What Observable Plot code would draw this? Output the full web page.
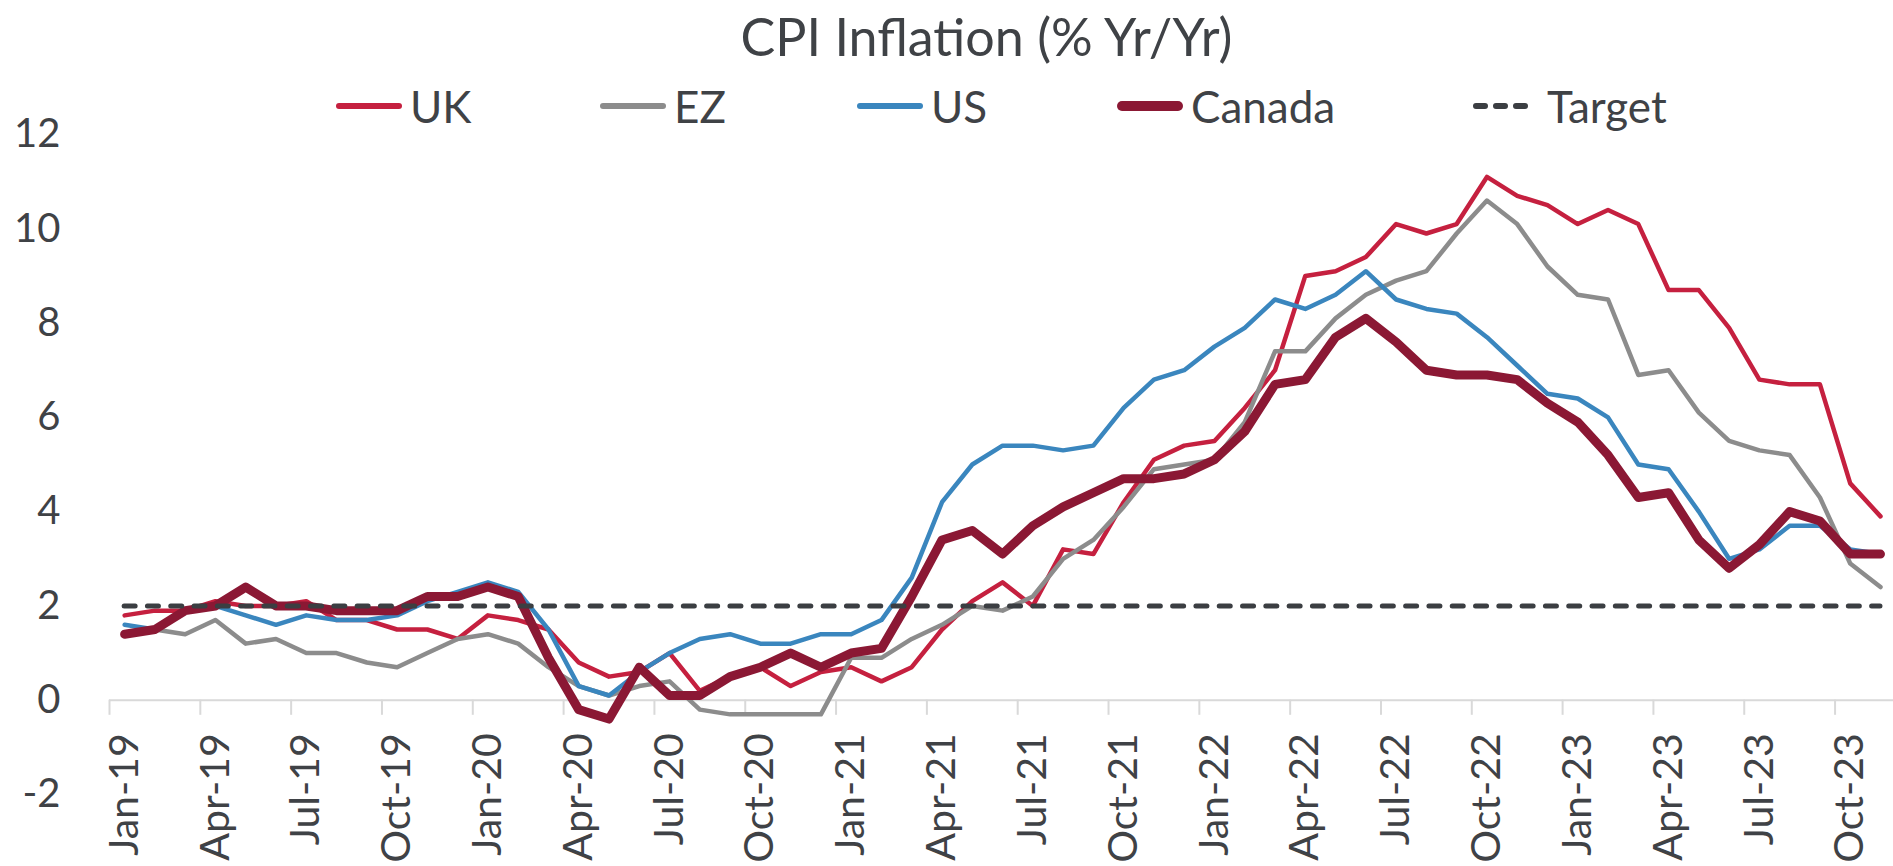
<!DOCTYPE html>
<html>
<head>
<meta charset="utf-8">
<script src="https://cdn.jsdelivr.net/npm/d3@7"></script>
<script src="https://cdn.jsdelivr.net/npm/@observablehq/plot@0.6"></script>
<style>
  html, body { margin: 0; padding: 0; background: #fff; }
  #wrap { position: relative; width: 1893px; height: 866px; font-family: Lato, "Open Sans", sans-serif; color: #3f4246; }
  #title { position: absolute; left: 40px; top: 0; width: 1893px; height: 72px; line-height: 72px; text-align: center; font-size: 52px; z-index: 2; }
  #legend { position: absolute; left: 0; top: 82px; width: 1893px; height: 48px; z-index: 2; }
  .item { position: absolute; top: 0; height: 48px; display: flex; align-items: center; font-size: 44px; white-space: nowrap; }
  .item svg { margin-right: 8px; overflow: visible; }
  #chart { position: absolute; left: 0; top: 120px; z-index: 1; }
  #chart svg { overflow: visible; }
</style>
</head>
<body>
<div id="wrap">
  <div id="title">CPI Inflation (% Yr/Yr)</div>
  <div id="legend"></div>
  <div id="chart"></div>
</div>
<script>
// ---- data (Jan-19 .. Nov-23, monthly, % y/y) ----
const uk = [1.8,1.9,1.9,2.1,2.0,2.0,2.1,1.7,1.7,1.5,1.5,1.3,
            1.8,1.7,1.5,0.8,0.5,0.6,1.0,0.2,0.5,0.7,0.3,0.6,
            0.7,0.4,0.7,1.5,2.1,2.5,2.0,3.2,3.1,4.2,5.1,5.4,
            5.5,6.2,7.0,9.0,9.1,9.4,10.1,9.9,10.1,11.1,10.7,10.5,
            10.1,10.4,10.1,8.7,8.7,7.9,6.8,6.7,6.7,4.6,3.9];
const ez = [1.4,1.5,1.4,1.7,1.2,1.3,1.0,1.0,0.8,0.7,1.0,1.3,
            1.4,1.2,0.7,0.3,0.1,0.3,0.4,-0.2,-0.3,-0.3,-0.3,-0.3,
            0.9,0.9,1.3,1.6,2.0,1.9,2.2,3.0,3.4,4.1,4.9,5.0,
            5.1,5.9,7.4,7.4,8.1,8.6,8.9,9.1,9.9,10.6,10.1,9.2,
            8.6,8.5,6.9,7.0,6.1,5.5,5.3,5.2,4.3,2.9,2.4];
const us = [1.6,1.5,1.9,2.0,1.8,1.6,1.8,1.7,1.7,1.8,2.1,2.3,
            2.5,2.3,1.5,0.3,0.1,0.6,1.0,1.3,1.4,1.2,1.2,1.4,
            1.4,1.7,2.6,4.2,5.0,5.4,5.4,5.3,5.4,6.2,6.8,7.0,
            7.5,7.9,8.5,8.3,8.6,9.1,8.5,8.3,8.2,7.7,7.1,6.5,
            6.4,6.0,5.0,4.9,4.0,3.0,3.2,3.7,3.7,3.2,3.1];
const canada = [1.4,1.5,1.9,2.0,2.4,2.0,2.0,1.9,1.9,1.9,2.2,2.2,
            2.4,2.2,0.9,-0.2,-0.4,0.7,0.1,0.1,0.5,0.7,1.0,0.7,
            1.0,1.1,2.2,3.4,3.6,3.1,3.7,4.1,4.4,4.7,4.7,4.8,
            5.1,5.7,6.7,6.8,7.7,8.1,7.6,7.0,6.9,6.9,6.8,6.3,
            5.9,5.2,4.3,4.4,3.4,2.8,3.3,4.0,3.8,3.1,3.1];
const targetValue = 2;
const tickLabels = ["Jan-19","Apr-19","Jul-19","Oct-19","Jan-20","Apr-20","Jul-20","Oct-20",
                    "Jan-21","Apr-21","Jul-21","Oct-21","Jan-22","Apr-22","Jul-22","Oct-22",
                    "Jan-23","Apr-23","Jul-23","Oct-23"];
const yTicks = [-2,0,2,4,6,8,10,12];

// ---- styling ----
const series = [
  {name: "UK",     values: uk,     color: "#c5203f", width: 4.5},
  {name: "EZ",     values: ez,     color: "#8c8c8c", width: 4.5},
  {name: "US",     values: us,     color: "#3a86be", width: 4.5},
  {name: "Canada", values: canada, color: "#8b1834", width: 9}
];
const targetColor = "#3b3e42";

const rows = series.flatMap(s => s.values.map((v, i) => ({name: s.name, i, v})));
const tickIdx = tickLabels.map((_, k) => k * 3);

const chart = Plot.plot({
  width: 1893,
  height: 746,
  marginTop: 14,
  marginBottom: 72,
  marginLeft: 109,
  marginRight: 0,
  style: {fontFamily: "Lato, 'Open Sans', sans-serif", color: "#3f4246", background: "transparent", overflow: "visible"},
  x: {domain: [-0.5, uk.length - 0.57], axis: null},
  y: {domain: [-2, 12], axis: null},
  marks: [
    Plot.axisY(yTicks, {tickSize: 0, tickPadding: 49, tickFormat: d => String(d), fontSize: 40, label: null, fill: "#3f4246"}),
    Plot.ruleY([0], {stroke: "#d9d9d9", strokeWidth: 2}),
    Plot.ruleX(tickIdx, {x: d => d - 0.5, y1: 0, y2: -0.32, stroke: "#d9d9d9", strokeWidth: 2}),
    Plot.text(tickLabels, {x: (d, k) => tickIdx[k], y: 0, text: d => d, rotate: -90, textAnchor: "end", dy: 33, fontSize: 41, fill: "#3f4246"}),
    ...series.map(s => Plot.line(rows.filter(r => r.name === s.name), {
      x: "i", y: "v", stroke: s.color, strokeWidth: s.width, strokeLinejoin: "round", strokeLinecap: "round"
    })),
    Plot.ruleY([targetValue], {x1: 0, x2: uk.length - 1, stroke: targetColor, strokeWidth: 5, strokeDasharray: "11,12.3", strokeLinecap: "round"})
  ]
});
document.getElementById("chart").appendChild(chart);

// ---- legend ----
const legendItems = [
  ...series.map(s => ({name: s.name, color: s.color, width: s.name === "Canada" ? 10 : 6, dash: null})),
  {name: "Target", color: targetColor, width: 6, dash: "9,11"}
];
const legendLeft = [336, 600, 857, 1117, 1473];
const legend = d3.select("#legend");
legendItems.forEach((it, k) => {
  const div = legend.append("div").attr("class", "item").style("left", legendLeft[k] + "px");
  const svg = div.append("svg").attr("width", 66).attr("height", 12);
  svg.append("line").attr("x1", it.width / 2).attr("x2", 66 - it.width / 2).attr("y1", 6).attr("y2", 6)
    .attr("stroke", it.color).attr("stroke-width", it.width).attr("stroke-linecap", "round")
    .attr("stroke-dasharray", it.dash);
  div.append("span").text(it.name);
});
</script>
</body>
</html>
